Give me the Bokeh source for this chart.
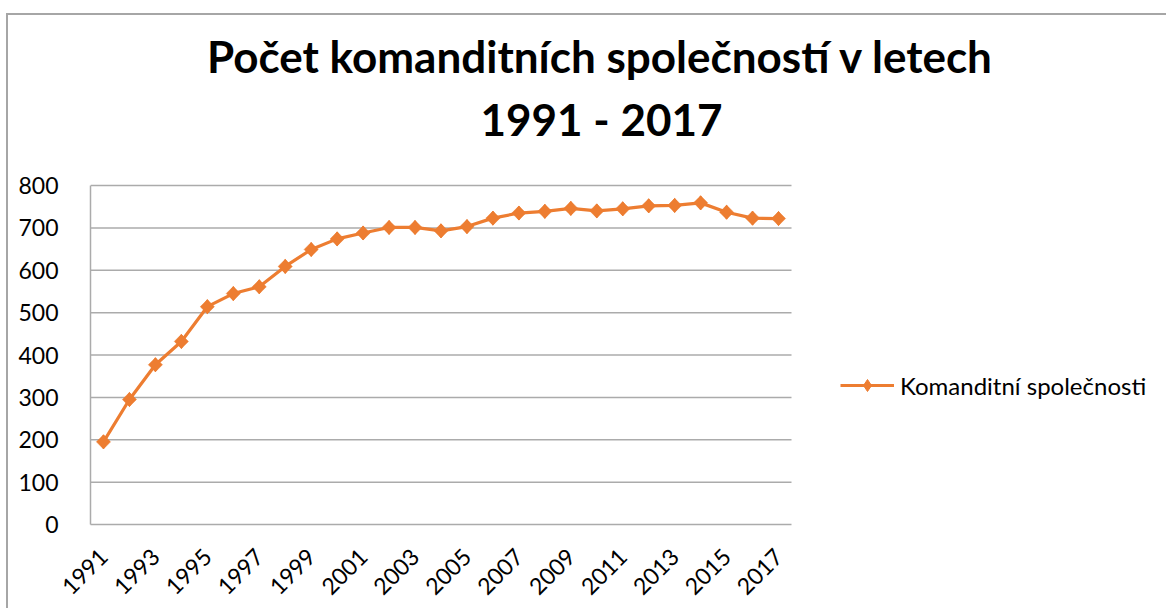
import math
from bokeh.plotting import figure
from bokeh.models import (Range1d, FixedTicker, Label, Legend, LegendItem)
from bokeh.embed import file_html
from bokeh.resources import INLINE

years = list(range(1991, 2018))
values = [195, 295, 377, 432, 514, 545, 561, 609, 649, 674, 688, 701, 701,
          693, 703, 723, 735, 739, 746, 740, 745, 752, 753, 759, 737, 723, 722]
y_ticks = [0, 100, 200, 300, 400, 500, 600, 700, 800]
x_ticks = list(range(1991, 2018, 2))
title_line1 = "Počet komanditních společností v letech"
title_line2 = "1991 - 2017"
series_name = "Komanditní společnosti"

ORANGE = "#ED7D31"
GRID = "#ABABAB"
FONT = "Lato"

# layout (canvas pixels): canvas is 1160 x 595, frame spans the whole width
W, H = 1160, 595
LEFT, BOTTOM = 82, 86            # frame left / bottom padding
PLOT_W, PLOT_H = 701, 339         # size of the drawn chart area inside the frame
frame_w = W - LEFT
frame_h = H - BOTTOM
x0, x1 = years[0] - 0.5, years[-1] + 0.5
y0, y1 = 0, y_ticks[-1]
x_end = x0 + (x1 - x0) * frame_w / PLOT_W
y_end = y0 + (y1 - y0) * frame_h / PLOT_H

p = figure(width=W, height=H, output_backend="svg", toolbar_location=None,
           x_range=Range1d(x0, x_end), y_range=Range1d(y0, y_end),
           min_border_left=LEFT, min_border_right=0, min_border_top=0,
           min_border_bottom=BOTTOM)
p.styles = {"border-left": "2px solid #A6A6A6", "border-top": "2px solid #A6A6A6",
            "margin-left": "6px", "margin-top": "13px"}
p.title.visible = False
p.outline_line_color = None
p.background_fill_color = "white"
p.border_fill_color = "white"

p.xgrid.visible = False
p.ygrid.visible = False
grid_levels = [t for t in y_ticks if t > 0]
p.segment(x0=[x0] * len(grid_levels), x1=[x1] * len(grid_levels),
          y0=grid_levels, y1=grid_levels, line_color=GRID, line_width=1.5)

p.yaxis.ticker = FixedTicker(ticks=y_ticks)
p.xaxis.ticker = FixedTicker(ticks=x_ticks)
p.xaxis.bounds = (x0, x1)
p.yaxis.bounds = (y0, y1)
for ax in (p.xaxis, p.yaxis):
    ax.axis_line_color = GRID
    ax.axis_line_width = 1.5
    ax.major_tick_line_color = None
    ax.minor_tick_line_color = None
    ax.major_label_text_font = FONT
    ax.major_label_text_font_size = "23px"
    ax.major_label_text_color = "#000000"
p.yaxis.major_label_standoff = 26
p.xaxis.major_label_standoff = 22
p.xaxis.major_label_orientation = math.pi / 4

line = p.line(years, values, line_color=ORANGE, line_width=3.2)
# narrow diamond used for the legend glyph; it lies under the rotated squares
legend_marker = p.scatter(years, values, marker="diamond", size=14,
                          fill_color=ORANGE, line_color=ORANGE)
pts = p.scatter(years, values, marker="square", size=10, angle=math.pi / 4,
                fill_color=ORANGE, line_color=ORANGE, line_width=0.5)

legend = Legend(items=[LegendItem(label=series_name, renderers=[line, legend_marker])],
                location=(750, 124), padding=0, margin=0, spacing=0,
                glyph_width=54, glyph_height=30, label_height=30,
                label_standoff=6, border_line_color=None,
                background_fill_alpha=0,
                label_text_font=FONT, label_text_font_size="24px",
                label_text_color="#000000")
p.add_layout(legend, "center")

p.add_layout(Label(x=510, y=469, x_units="screen", y_units="screen",
                   text=title_line1, text_align="center", text_baseline="alphabetic",
                   text_font=FONT, text_font_style="bold", text_font_size="44px",
                   text_color="#000000"))
p.add_layout(Label(x=511, y=406, x_units="screen", y_units="screen",
                   text=title_line2, text_align="center", text_baseline="alphabetic",
                   text_font=FONT, text_font_style="bold", text_font_size="44px",
                   text_color="#000000"))

open("out.html", "w").write(file_html(p, INLINE))
